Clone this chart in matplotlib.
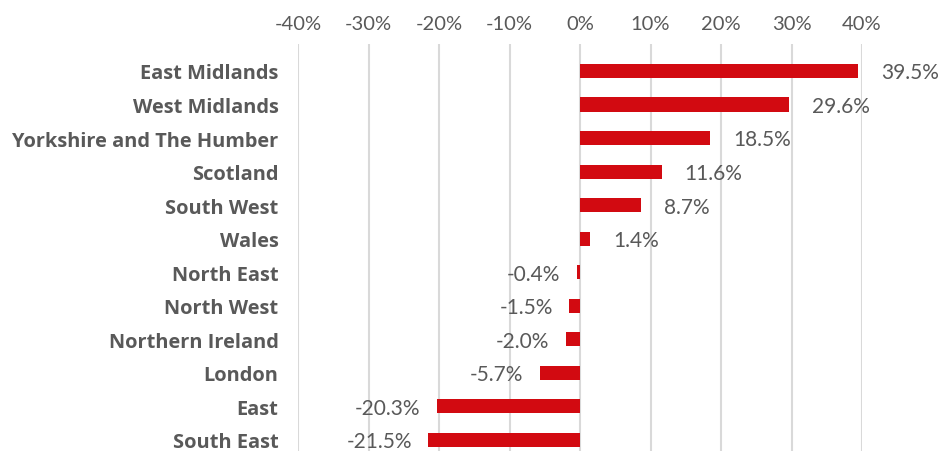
import matplotlib
matplotlib.use("Agg")
import matplotlib.pyplot as plt
from matplotlib.ticker import FuncFormatter

regions = ["East Midlands", "West Midlands", "Yorkshire and The Humber", "Scotland",
           "South West", "Wales", "North East", "North West", "Northern Ireland",
           "London", "East", "South East"]
changes = [39.5, 29.6, 18.5, 11.6, 8.7, 1.4, -0.4, -1.5, -2.0, -5.7, -20.3, -21.5]
ticks = [-40, -30, -20, -10, 0, 10, 20, 30, 40]

plt.rcParams['font.family'] = ['Lato', 'DejaVu Sans']

fig = plt.figure(figsize=(9.42, 4.52), dpi=100)
ax = fig.add_axes([298/942, 0.0, (862-298)/942, 1 - 45/452])

bar_color = "#D20A11"
y = list(range(len(regions)))
ax.barh(y, changes, height=0.42, color=bar_color, zorder=3)

ax.set_xlim(-40, 40)
ax.set_ylim(11.33, -0.805)
ax.set_xticks(ticks)
ax.xaxis.set_major_formatter(FuncFormatter(lambda v, p: f"{v:.0f}%"))
ax.xaxis.tick_top()
ax.tick_params(axis='x', length=0, pad=9, labelsize=14.5, labelcolor="#595959")
ax.set_yticks(y)
ax.set_yticklabels(regions, fontsize=14.4, fontweight='bold', color="#595959",
                   family=['Open Sans', 'DejaVu Sans'])
ax.tick_params(axis='y', length=0, pad=14)
ax.grid(axis='x', color="#D9D9D9", linewidth=1.5, zorder=0)
for s in ax.spines.values():
    s.set_visible(False)

for yi, v in zip(y, changes):
    if v >= 0:
        ax.annotate(f"{v:.1f}%", (v, yi), xytext=(16.5, -1), textcoords="offset points",
                    ha='left', va='center', fontsize=15, color="#595959")
    else:
        ax.annotate(f"{v:.1f}%", (v, yi), xytext=(-12, -1), textcoords="offset points",
                    ha='right', va='center', fontsize=15, color="#595959")

fig.savefig("out.png", dpi=100)
